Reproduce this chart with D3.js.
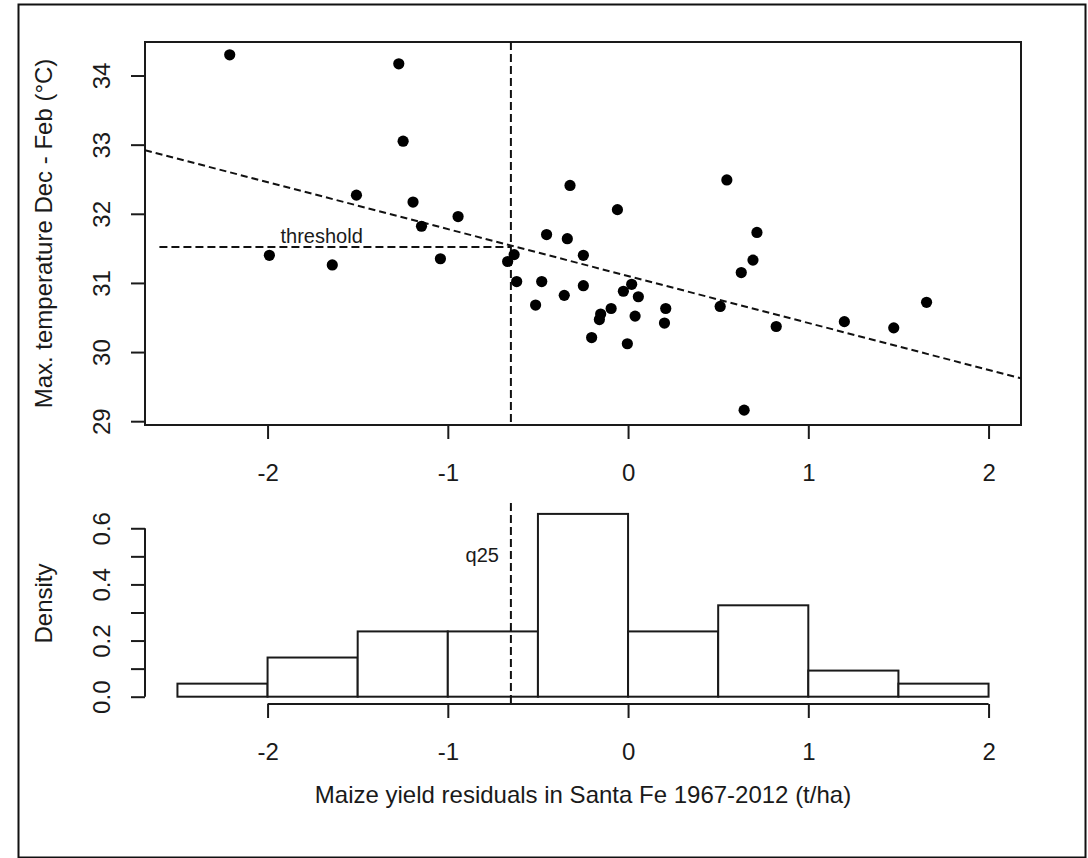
<!DOCTYPE html>
<html>
<head>
<meta charset="utf-8">
<script src="https://cdn.jsdelivr.net/npm/d3@7"></script>
<style>
  body { margin: 0; background: #fff; }
  text { font-family: "Liberation Sans", Arial, sans-serif; fill: #1a1a1a; }
  .axis text { font-size: 24px; }
  .axis line, .axis path { stroke: #1a1a1a; stroke-width: 2; }
</style>
</head>
<body>
<script>
// yield residuals (t/ha) and Dec-Feb max temperature (°C), Santa Fe 1967-2012
var residuals = [-2.21, -1.272, -1.248, -1.507, -1.193, -0.943, -1.146, -1.99, -1.641, -1.041,
                 -0.668, -0.632, -0.618, -0.322, -0.059, 0.548, -0.452, -0.337, 0.715, -0.248,
                 0.693, 0.628, -0.479, -0.248, 0.020, -0.026, 0.057, -0.354, -0.513, 0.511,
                 0.209, -0.094, -0.152, -0.159, 0.039, 0.202, 0.822, -0.202, -0.004, 1.656,
                 1.474, 1.2, 0.644];
var maxTemp = [34.30, 34.17, 33.05, 32.27, 32.17, 31.96, 31.82, 31.40, 31.26, 31.35,
               31.31, 31.41, 31.02, 32.41, 32.06, 32.49, 31.70, 31.64, 31.73, 31.40,
               31.33, 31.15, 31.02, 30.96, 30.98, 30.88, 30.80, 30.82, 30.68, 30.66,
               30.63, 30.63, 30.55, 30.47, 30.52, 30.42, 30.37, 30.21, 30.12, 30.72,
               30.35, 30.44, 29.16];

var xTicks = [-2, -1, 0, 1, 2],
    tempTicks = [29, 30, 31, 32, 33, 34],
    densityTicks = [0, 0.1, 0.2, 0.3, 0.4, 0.5, 0.6],
    binEdges = [-2.5, -2, -1.5, -1, -0.5, 0, 0.5, 1, 1.5, 2];

var fitIntercept = 31.10,
    fitSlope = -0.679,
    q25 = -0.65,
    thresholdTemp = 31.52,
    thresholdStart = -2.6;

var width = 1088,
    height = 858;

var svg = d3.select("body").append("svg")
    .attr("width", width)
    .attr("height", height);

svg.append("rect")
    .attr("x", 18.5).attr("y", 4.5)
    .attr("width", 1067).attr("height", 853)
    .attr("fill", "#fff")
    .attr("stroke", "#111")
    .attr("stroke-width", 2);

var left = 145, right = 1021;

// x range is xlim c(-2.5, 2) plus R's 4% padding
var x = d3.scaleLinear().domain([-2.68, 2.18]).range([left, right]);
var y = d3.scaleLinear().domain([28.945, 34.485]).range([425, 42]);
var yh = d3.scaleLinear().domain([-0.026, 0.69]).range([704, 503]);

function minusFmt(d) { return d < 0 ? "-" + Math.abs(d) : d; }

// ---------- scatter panel ----------
var scatter = svg.append("g");

scatter.append("defs").append("clipPath").attr("id", "clipTop")
  .append("rect")
    .attr("x", left).attr("y", 42)
    .attr("width", right - left).attr("height", 425 - 42);

var xAxisTop = scatter.append("g")
    .attr("class", "axis")
    .attr("transform", "translate(0,425)")
    .call(d3.axisBottom(x).tickValues(xTicks).tickSize(14).tickSizeOuter(0).tickFormat(minusFmt));
xAxisTop.select(".domain").remove();
xAxisTop.selectAll("text").attr("dy", null).attr("y", 56);

var yAxisTop = scatter.append("g")
    .attr("class", "axis")
    .attr("transform", "translate(" + left + ",0)")
    .call(d3.axisLeft(y).tickValues(tempTicks).tickSize(14).tickSizeOuter(0).tickFormat(d3.format("d")));
yAxisTop.select(".domain").remove();
yAxisTop.selectAll("text")
    .attr("transform", "rotate(-90)")
    .attr("text-anchor", "middle")
    .attr("x", 0).attr("dy", null)
    .attr("y", -35);

scatter.append("rect")
    .attr("x", left).attr("y", 42)
    .attr("width", right - left).attr("height", 425 - 42)
    .attr("fill", "none")
    .attr("stroke", "#1a1a1a")
    .attr("stroke-width", 2);

// regression line
scatter.append("line")
    .attr("clip-path", "url(#clipTop)")
    .attr("x1", x(x.domain()[0]))
    .attr("y1", y(fitIntercept + fitSlope * x.domain()[0]))
    .attr("x2", x(x.domain()[1]))
    .attr("y2", y(fitIntercept + fitSlope * x.domain()[1]))
    .attr("stroke", "#111").attr("stroke-width", 2)
    .attr("stroke-dasharray", "7,4");

// q25 vertical line
scatter.append("line")
    .attr("x1", x(q25)).attr("x2", x(q25))
    .attr("y1", 42).attr("y2", 425)
    .attr("stroke", "#111").attr("stroke-width", 2)
    .attr("stroke-dasharray", "8,4");

// threshold
scatter.append("line")
    .attr("x1", x(thresholdStart)).attr("x2", x(q25))
    .attr("y1", y(thresholdTemp)).attr("y2", y(thresholdTemp))
    .attr("stroke", "#111").attr("stroke-width", 2)
    .attr("stroke-dasharray", "8,4");

scatter.append("text")
    .attr("x", x(-1.7)).attr("y", y(thresholdTemp) - 4)
    .attr("text-anchor", "middle")
    .attr("font-size", 20)
    .text("threshold");

scatter.selectAll(".dot")
    .data(residuals)
    .enter().append("circle")
    .attr("class", "dot")
    .attr("cx", function(d) { return x(d); })
    .attr("cy", function(d, i) { return y(maxTemp[i]); })
    .attr("r", 5.6)
    .attr("fill", "#000");

scatter.append("text")
    .attr("transform", "translate(52," + ((42 + 425) / 2) + ") rotate(-90)")
    .attr("text-anchor", "middle")
    .attr("font-size", 24)
    .text("Max. temperature Dec - Feb (°C)");

// ---------- histogram panel ----------
var bins = d3.bin()
    .domain([binEdges[0], binEdges[binEdges.length - 1]])
    .thresholds(binEdges.slice(1, -1))(residuals);
var n = residuals.length;

function density(d) { return d.length / (n * (d.x1 - d.x0)); }

var hist = svg.append("g");

hist.selectAll(".bar")
    .data(bins)
    .enter().append("rect")
    .attr("class", "bar")
    .attr("x", function(d) { return x(d.x0); })
    .attr("width", function(d) { return x(d.x1) - x(d.x0); })
    .attr("y", function(d) { return yh(density(d)); })
    .attr("height", function(d) { return yh(0) - yh(density(d)); })
    .attr("fill", "#fff")
    .attr("stroke", "#1a1a1a")
    .attr("stroke-width", 2);

var xAxisHist = hist.append("g")
    .attr("class", "axis")
    .attr("transform", "translate(0,704)")
    .call(d3.axisBottom(x).tickValues(xTicks).tickSize(14).tickSizeOuter(0).tickFormat(minusFmt));
xAxisHist.select(".domain").remove();
xAxisHist.selectAll("text").attr("dy", null).attr("y", 56);
xAxisHist.append("line")
    .attr("x1", x(xTicks[0])).attr("x2", x(xTicks[xTicks.length - 1]))
    .attr("y1", 0).attr("y2", 0);

var yAxisHist = hist.append("g")
    .attr("class", "axis")
    .attr("transform", "translate(" + left + ",0)")
    .call(d3.axisLeft(yh).tickValues(densityTicks).tickSize(14).tickSizeOuter(0)
      .tickFormat(function(d, i) { return i % 2 === 0 ? d3.format(".1f")(d) : ""; }));
yAxisHist.select(".domain").remove();
yAxisHist.selectAll("text")
    .attr("transform", "rotate(-90)")
    .attr("text-anchor", "middle")
    .attr("x", 0).attr("dy", null)
    .attr("y", -35);
yAxisHist.append("line")
    .attr("x1", 0).attr("x2", 0)
    .attr("y1", yh(densityTicks[0])).attr("y2", yh(densityTicks[densityTicks.length - 1]));

hist.append("line")
    .attr("x1", x(q25)).attr("x2", x(q25))
    .attr("y1", 503).attr("y2", 704)
    .attr("stroke", "#111").attr("stroke-width", 2)
    .attr("stroke-dasharray", "8,4");

hist.append("text")
    .attr("x", x(q25) - 12).attr("y", 562)
    .attr("text-anchor", "end")
    .attr("font-size", 20)
    .text("q25");

hist.append("text")
    .attr("transform", "translate(52," + ((503 + 704) / 2) + ") rotate(-90)")
    .attr("text-anchor", "middle")
    .attr("font-size", 24)
    .text("Density");

svg.append("text")
    .attr("x", (left + right) / 2)
    .attr("y", 803)
    .attr("text-anchor", "middle")
    .attr("font-size", 24)
    .text("Maize yield residuals in Santa Fe 1967-2012 (t/ha)");
</script>
</body>
</html>
